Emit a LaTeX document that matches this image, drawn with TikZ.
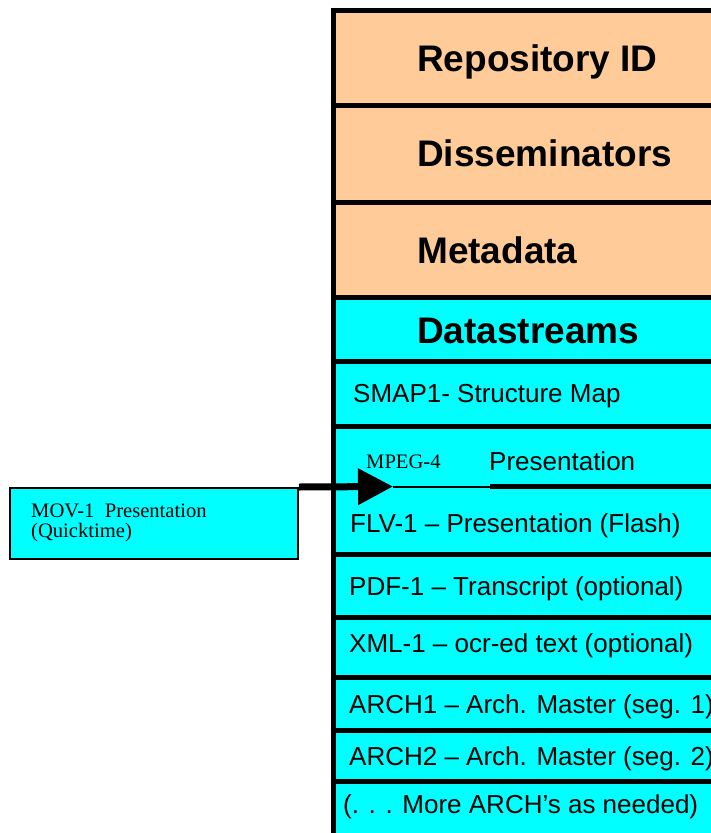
\documentclass[tikz,border=0pt]{standalone}
\usepackage{fontspec}
\setmainfont{Liberation Serif}
\newfontfamily\arialfont{Liberation Sans}
\usetikzlibrary{arrows.meta}
\definecolor{peachfill}{HTML}{FFCC99}
\definecolor{aquafill}{HTML}{00FFFF}
\begin{document}
\begin{tikzpicture}[x=1pt,y=-1pt,
  cell/.style={anchor=north west, inner sep=0pt, outer sep=0pt, minimum width=420pt},
  peachcell/.style={cell, fill=peachfill},
  aquacell/.style={cell, fill=aquafill},
  heading/.style={anchor=base west, inner sep=0pt, font=\arialfont\bfseries\fontsize{37}{40}\selectfont},
  entry/.style={anchor=base west, inner sep=0pt, font=\arialfont\fontsize{26}{30}\selectfont},
  serifnote/.style={anchor=base west, inner sep=0pt, font=\fontsize{20.6}{20}\selectfont},
  rule/.style={line width=5pt},
]
\useasboundingbox (0,0) rectangle (711,833);

% object record: rows of the column
\node[peachcell, minimum height=95pt] (repo)  at (333,10)  {};
\node[peachcell, minimum height=97pt] (diss)  at (333,105) {};
\node[peachcell, minimum height=95pt] (meta)  at (333,202) {};
\node[aquacell,  minimum height=64pt] (ds)    at (333,297) {};
\node[aquacell,  minimum height=65pt] (smap)  at (333,361) {};
\node[aquacell,  minimum height=60pt] (mpeg)  at (333,426) {};
\node[aquacell,  minimum height=68pt] (flv)   at (333,486) {};
\node[aquacell,  minimum height=63pt] (pdf)   at (333,554) {};
\node[aquacell,  minimum height=60pt] (xml)   at (333,617) {};
\node[aquacell,  minimum height=53pt] (archa) at (333,677) {};
\node[aquacell,  minimum height=51pt] (archb) at (333,730) {};
\node[aquacell,  minimum height=70pt] (more)  at (333,781) {};

% column borders
\draw[rule] (333,7.5) -- (333,850);
\foreach \yy in {10,105,202,297,361,426,554,617,677,730,781}
  \draw[rule] (330.5,\yy) -- (740,\yy);
\draw[rule] (490,486) -- (740,486);
\draw[line width=2.5pt] (393,487) -- (490,487);

% row labels
\node[heading] (repot) at (417,71)  {Repository ID};
\node[heading] (disst) at (417,166) {Disseminators};
\node[heading] (metat) at (417,263) {Metadata};
\node[heading] (dst)   at (417,343) {Datastreams};
\node[entry] (smapt)  at (353,402) {SMAP1- Structure Map};
\node[serifnote] (mpegt) at (366,468) {MPEG-4};
\node[entry] (prest)  at (489,470) {Presentation};
\node[entry] (flvt)   at (350,532) {FLV-1 – Presentation (Flash)};
\node[entry] (pdft)   at (349,595) {PDF-1 – Transcript (optional)};
\node[entry] (xmlt)   at (349,652) {XML-1 – ocr-ed text (optional)};
\node[entry] (archat) at (349,713) {ARCH1 – Arch. Master (seg. 1)};
\node[entry] (archbt) at (349,765) {ARCH2 – Arch. Master (seg. 2)};
\node[entry] (moret)  at (343,813) {(. . . More ARCH’s as needed)};

% incoming stream box
\node[draw, line width=2pt, fill=aquafill, anchor=north west, inner sep=0pt,
      minimum width=288pt, minimum height=71pt] (mov) at (9,487) {};
\node[serifnote] (movl1) at (31,517) {MOV-1\ \ Presentation};
\node[serifnote] (movl2) at (31,537) {(Quicktime)};

% arrow into the MPEG-4 row
\coordinate (tip) at (393,486.5);
\draw[line width=7pt, -{Triangle[length=35pt,width=35pt]}] (mov.north east) -- (tip);
\end{tikzpicture}
\end{document}
